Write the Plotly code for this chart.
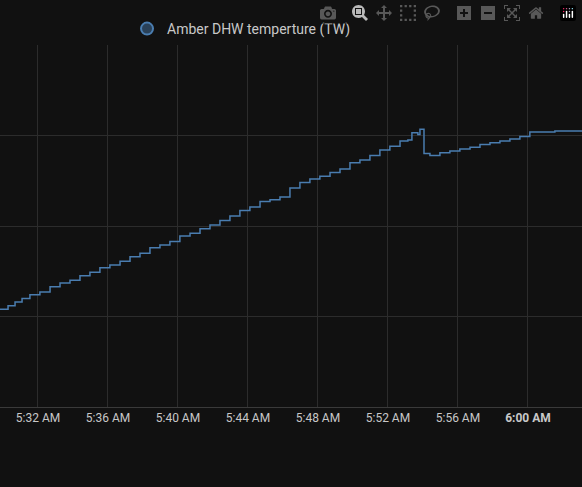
import pandas as pd
import plotly.graph_objs as go

# Data: minutes after 5:30 AM and temperature readings
minutes = [-0.17, 0.29, 0.69, 1.09, 1.54, 2.11, 2.69, 3.26, 3.83, 4.4, 4.97, 5.54, 6.11, 6.69,
           7.26, 7.83, 8.4, 8.97, 9.54, 10.11, 10.69, 11.26, 11.83, 12.4, 12.97, 13.54, 14.11,
           14.69, 15.26, 15.83, 16.4, 16.97, 17.54, 18.11, 18.69, 19.26, 19.83, 20.4, 20.97,
           21.54, 22.11, 22.69, 23.14, 23.37, 23.71, 23.83, 24.06, 24.4, 24.97, 25.54, 26.11,
           26.69, 27.26, 27.83, 28.4, 28.97, 29.54, 30.11, 31.54, 33.09]
temps = [30.8, 31.2, 31.6, 32.0, 32.4, 32.7, 33.3, 33.7, 34.0, 34.5, 34.9, 35.4, 35.7, 36.1,
         36.6, 37.0, 37.6, 37.9, 38.3, 38.9, 39.2, 39.7, 40.1, 40.6, 41.1, 41.7, 42.1,
         42.7, 42.9, 43.2, 44.2, 44.8, 45.2, 45.5, 45.9, 46.3, 47.0, 47.3, 47.8,
         48.4, 48.8, 49.4, 49.5, 50.3, 50.1, 50.7, 48.0, 47.8, 48.1, 48.3, 48.5,
         48.7, 49.0, 49.2, 49.4, 49.6, 49.9, 50.4, 50.5, 50.5]
tick_times = ["05:32", "05:36", "05:40", "05:44", "05:48", "05:52", "05:56", "06:00", "06:04"]
tick_labels = ["5:32 AM", "5:36 AM", "5:40 AM", "5:44 AM", "5:48 AM", "5:52 AM", "5:56 AM",
               "<b>6:00 AM</b>", "6:04 AM"]

base = pd.Timestamp("2024-01-01 05:30:00")
times = [base + pd.Timedelta(minutes=m) for m in minutes]
ticks = [pd.Timestamp("2024-01-01 " + t) for t in tick_times]

line_color = "#4a7db0"
fig = go.Figure()
fig.add_trace(go.Scatter(x=times, y=temps, mode="lines", line=dict(color=line_color, width=1.5, shape="hv"),
                         showlegend=False))
fig.add_trace(go.Scatter(x=[None], y=[None], mode="markers", name="Amber DHW temperture (TW)",
                         marker=dict(size=14, color="rgba(74,125,176,0.45)", line=dict(color=line_color, width=1.5))))

fig.update_layout(width=582, height=487, paper_bgcolor="#111111", plot_bgcolor="#111111",
                  margin=dict(l=0, r=0, t=45, b=80),
                  font=dict(family="Roboto", size=12, color="#c8c8c8"),
                  legend=dict(orientation="h", x=0.415, xanchor="center", y=1.0, yanchor="bottom",
                              font=dict(size=14, color="#c8c8c8"), itemsizing="constant"))
fig.update_xaxes(range=[base + pd.Timedelta(minutes=-0.17), base + pd.Timedelta(minutes=33.09)],
                 tickvals=ticks, ticktext=tick_labels, showgrid=True, gridcolor="#2c2c2c",
                 showline=True, linecolor="#3a3a3a", ticks="", zeroline=False)
fig.update_yaxes(range=[20, 60], dtick=10, showticklabels=False, showgrid=True, gridcolor="#2c2c2c",
                 zeroline=False)
fig.write_html("out.html",
               post_script="document.body.style.margin='0';document.body.style.background='#111111';")
